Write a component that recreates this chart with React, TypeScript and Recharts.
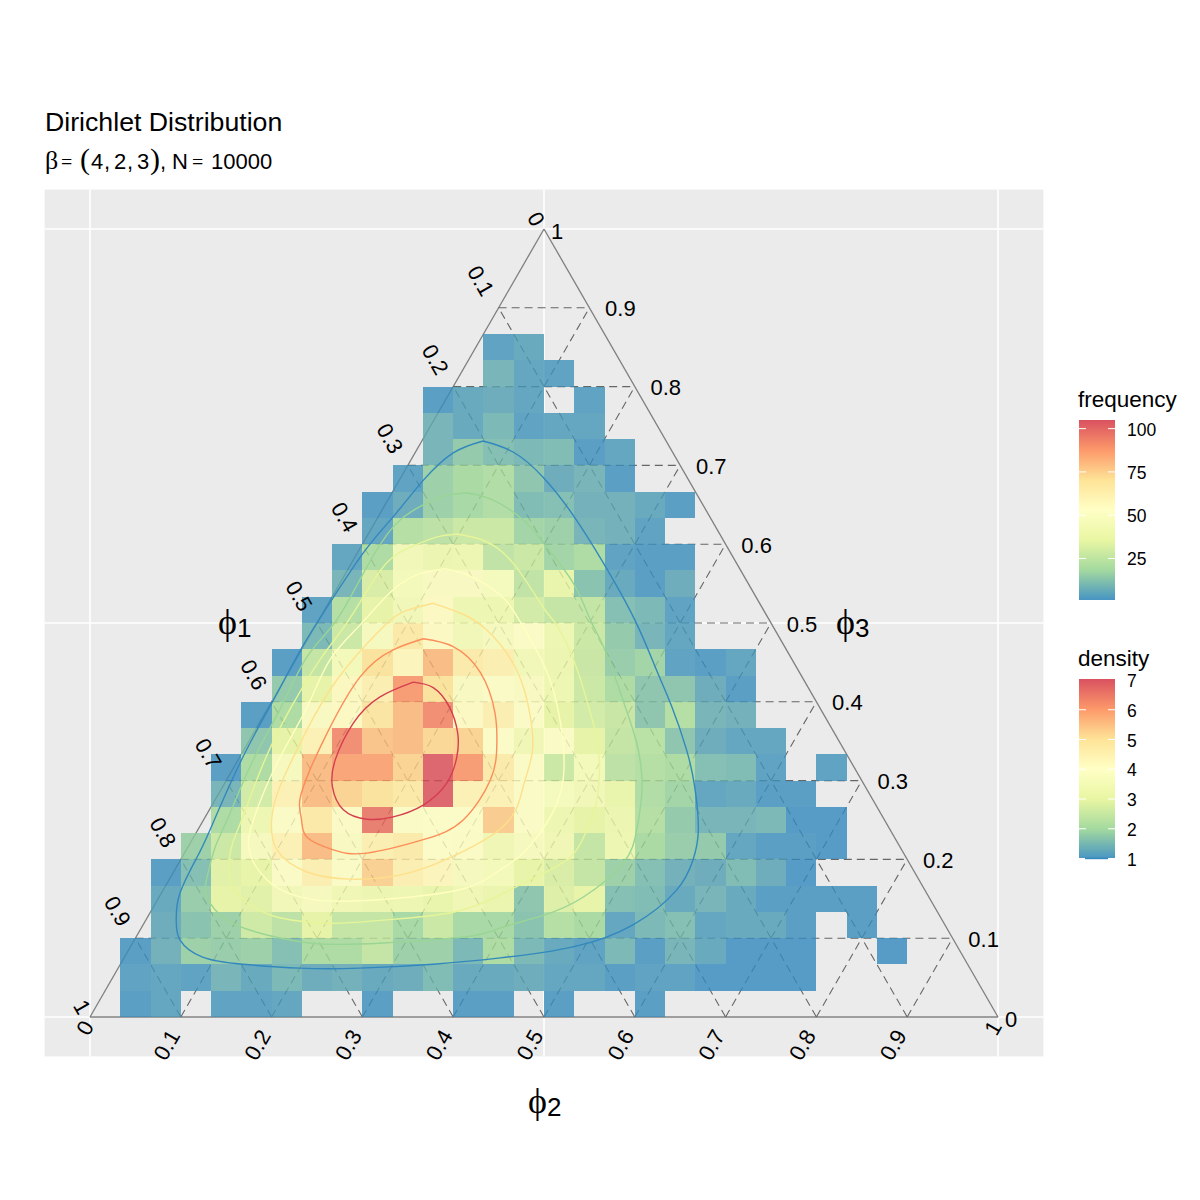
import React from 'react';
import { ScatterChart, Scatter, XAxis, YAxis, CartesianGrid, ReferenceArea, ReferenceLine } from 'recharts';

const FONT = '"Liberation Sans", Arial, sans-serif';
const SERIF = '"Liberation Serif", "Times New Roman", serif';

const palette = ['#3288BD', '#99D594', '#E6F598', '#FFFFBF', '#FEE08B', '#FC8D59', '#D53E4F'];
const BINS = 30;
const FREQ_MIN = 1;
const FREQ_MAX = 105;

// counts per square bin, bottom row first, one entry per column
const frequencyRows: number[][] = [
  [0, 2, 4, 0, 3, 3, 4, 0, 0, 2, 0, 0, 2, 2, 0, 2, 0, 0, 2],
  [0, 3, 4, 3, 8, 5, 9, 6, 7, 5, 6, 10, 5, 5, 6, 4, 4, 2, 3, 3, 1, 1, 1, 1],
  [0, 2, 7, 16, 15, 16, 11, 20, 20, 26, 16, 16, 9, 20, 9, 5, 3, 9, 2, 8, 5, 1, 1, 1, 0, 0, 1],
  [0, 0, 6, 12, 16, 29, 24, 36, 26, 26, 18, 28, 18, 18, 12, 22, 19, 4, 9, 11, 4, 5, 5, 2, 0, 2],
  [0, 0, 5, 15, 36, 34, 44, 48, 43, 41, 42, 38, 43, 39, 13, 33, 37, 11, 10, 5, 8, 5, 2, 2, 2, 2],
  [0, 0, 2, 11, 34, 37, 52, 62, 52, 75, 62, 58, 48, 46, 37, 32, 26, 16, 11, 7, 6, 10, 6, 1],
  [0, 0, 0, 16, 28, 48, 60, 80, 50, 62, 64, 53, 52, 43, 48, 43, 26, 42, 19, 15, 14, 4, 2, 2, 1],
  [0, 0, 0, 0, 20, 42, 52, 66, 54, 96, 52, 53, 53, 76, 52, 42, 36, 40, 22, 14, 8, 8, 9, 1, 1],
  [0, 0, 0, 0, 8, 30, 60, 80, 74, 70, 66, 103, 60, 61, 52, 47, 44, 38, 21, 17, 4, 5, 2, 2],
  [0, 0, 0, 0, 2, 20, 48, 80, 86, 86, 74, 103, 88, 65, 52, 28, 46, 24, 22, 20, 11, 10, 3, 0, 3],
  [0, 0, 0, 0, 0, 13, 36, 60, 92, 78, 80, 73, 74, 53, 43, 52, 36, 26, 23, 13, 6, 4, 4],
  [0, 0, 0, 0, 0, 2, 20, 50, 55, 68, 80, 92, 55, 62, 52, 36, 30, 27, 13, 22, 8, 7],
  [0, 0, 0, 0, 0, 0, 14, 36, 56, 62, 88, 70, 50, 52, 50, 42, 28, 20, 13, 13, 6, 2],
  [0, 0, 0, 0, 0, 0, 2, 26, 46, 70, 58, 80, 65, 62, 45, 40, 27, 15, 17, 3, 2, 4],
  [0, 0, 0, 0, 0, 0, 0, 9, 28, 48, 66, 55, 45, 48, 52, 42, 28, 14, 8, 4],
  [0, 0, 0, 0, 0, 0, 0, 3, 22, 36, 45, 55, 42, 42, 30, 26, 26, 11, 9, 3],
  [0, 0, 0, 0, 0, 0, 0, 0, 8, 32, 46, 50, 50, 47, 25, 38, 12, 5, 2, 6],
  [0, 0, 0, 0, 0, 0, 0, 0, 4, 20, 44, 40, 42, 25, 28, 17, 20, 3, 2, 2],
  [0, 0, 0, 0, 0, 0, 0, 0, 0, 4, 22, 24, 28, 28, 17, 16, 8, 7, 3],
  [0, 0, 0, 0, 0, 0, 0, 0, 0, 2, 6, 16, 18, 21, 10, 11, 7, 7, 5, 2],
  [0, 0, 0, 0, 0, 0, 0, 0, 0, 0, 3, 16, 19, 21, 13, 6, 8, 2],
  [0, 0, 0, 0, 0, 0, 0, 0, 0, 0, 0, 8, 14, 11, 9, 10, 2, 4],
  [0, 0, 0, 0, 0, 0, 0, 0, 0, 0, 0, 8, 5, 9, 3, 4, 4],
  [0, 0, 0, 0, 0, 0, 0, 0, 0, 0, 0, 2, 5, 6, 4, 0, 3],
  [0, 0, 0, 0, 0, 0, 0, 0, 0, 0, 0, 0, 0, 8, 4, 3],
  [0, 0, 0, 0, 0, 0, 0, 0, 0, 0, 0, 0, 0, 3, 5],
];

// density contours, level 1 to 7
const contour1X = [.433, .466, .499, .532, .565, .600, .624, .641, .657, .666, .670, .664, .646, .598, .532, .452, .378, .297, .231, .168, .124, .099, .095, .099, .118, .132, .165, .200, .233, .261, .301, .334, .367, .400];
const contour1Y = [.731, .717, .685, .637, .577, .504, .440, .393, .339, .292, .237, .199, .161, .117, .089, .075, .067, .062, .062, .067, .076, .098, .123, .157, .203, .237, .322, .398, .468, .520, .589, .635, .681, .716];
const contour2X = [.415, .444, .477, .499, .532, .551, .567, .587, .602, .608, .602, .587, .543, .499, .452, .415, .323, .250, .195, .151, .129, .129, .138, .151, .178, .209, .239, .270, .301, .334, .367, .393];
const contour2Y = [.665, .656, .631, .602, .551, .504, .466, .402, .348, .292, .237, .195, .152, .129, .113, .102, .094, .093, .104, .123, .152, .178, .216, .250, .322, .390, .457, .501, .563, .622, .650, .662];
const contour3X = [.404, .433, .466, .499, .514, .534, .548, .558, .561, .556, .547, .529, .488, .452, .400, .323, .268, .209, .173, .154, .156, .167, .191, .220, .253, .281, .308, .334, .367, .385];
const contour3Y = [.613, .605, .576, .520, .497, .449, .398, .355, .310, .263, .237, .203, .176, .155, .133, .123, .119, .126, .145, .174, .216, .250, .322, .390, .453, .497, .546, .584, .603, .610];
const contour4X = [.391, .422, .455, .474, .499, .514, .521, .521, .507, .477, .452, .415, .341, .268, .224, .195, .176, .180, .206, .239, .264, .297, .330, .360];
const contour4Y = [.569, .558, .532, .501, .449, .398, .348, .301, .254, .208, .187, .164, .151, .147, .155, .174, .208, .250, .322, .393, .453, .497, .538, .561];
const contour5X = [.378, .407, .437, .470, .485, .487, .477, .457, .396, .341, .286, .239, .206, .200, .209, .237, .272, .322, .349];
const contour5Y = [.525, .513, .491, .440, .381, .335, .292, .244, .202, .180, .175, .184, .212, .250, .292, .360, .428, .494, .516];
const contour6X = [.367, .400, .430, .446, .448, .441, .411, .367, .305, .268, .239, .233, .231, .242, .261, .297, .334];
const contour6Y = [.480, .470, .437, .386, .343, .301, .250, .225, .208, .212, .228, .250, .275, .313, .360, .431, .466];
const contour7X = [.356, .378, .396, .405, .404, .393, .367, .334, .305, .279, .267, .270, .290, .319];
const contour7Y = [.425, .418, .393, .360, .330, .297, .269, .254, .251, .263, .292, .326, .373, .406];

const contourXs = [contour1X, contour2X, contour3X, contour4X, contour5X, contour6X, contour7X];
const contourYs = [contour1Y, contour2Y, contour3Y, contour4Y, contour5Y, contour6Y, contour7Y];

const tickValues = [0, 0.1, 0.2, 0.3, 0.4, 0.5, 0.6, 0.7, 0.8, 0.9, 1];
const tickLabels = ['0', '0.1', '0.2', '0.3', '0.4', '0.5', '0.6', '0.7', '0.8', '0.9', '1'];
const frequencyTicks = [100, 75, 50, 25];
const densityTicks = [7, 6, 5, 4, 3, 2, 1];

const hexToRgb = (h: string) => [1, 3, 5].map(i => parseInt(h.slice(i, i + 2), 16));
const freqColor = (v: number) => {
  const t = Math.min(1, Math.max(0, (v - FREQ_MIN) / (FREQ_MAX - FREQ_MIN))) * (palette.length - 1);
  const i = Math.min(palette.length - 2, Math.floor(t));
  const a = hexToRgb(palette[i]);
  const b = hexToRgb(palette[i + 1]);
  const c = a.map((ch, n) => Math.round(ch + (b[n] - ch) * (t - i)));
  return `rgb(${c[0]},${c[1]},${c[2]})`;
};

const cells = frequencyRows.flatMap((row, k) =>
  row.map((v, j) => ({ j, k, v })).filter(c => c.v > 0));

const leftLabels = tickValues.map((t, i) => ({ x: (1 - t) / 2, y: 1 - t, label: tickLabels[i], corner: i === 0 || i === 10 }));
const rightLabels = tickValues.map((t, i) => ({ x: 1 - t / 2, y: t, label: tickLabels[i], corner: i === 0 || i === 10 }));
const bottomLabels = tickValues.map((t, i) => ({ x: t, y: 0, label: tickLabels[i], corner: i === 0 || i === 10 }));

const tickShape = (angle: number, dx: number, dy: number, cdx: number, cdy: number) => (p: any) => {
  const ox = p.payload.corner ? cdx : dx;
  const oy = p.payload.corner ? cdy : dy;
  return (
    <text
      transform={`translate(${p.cx + ox},${p.cy + oy}) rotate(${angle})`}
      textAnchor="middle"
      dominantBaseline="central"
      fontFamily={FONT}
      fontSize={22}
      fill="#000"
    >
      {p.payload.label}
    </text>
  );
};

const noDot = () => <g />;

const gridTicks = tickValues.slice(1, 10);
const dashedSegments = gridTicks.flatMap(t => [
  [{ x: t / 2, y: t }, { x: 1 - t / 2, y: t }],
  [{ x: t, y: 0 }, { x: (1 + t) / 2, y: 1 - t }],
  [{ x: t, y: 0 }, { x: t / 2, y: t }],
]);
const triangle = [
  [{ x: 0, y: 0 }, { x: 1, y: 0 }],
  [{ x: 0, y: 0 }, { x: 0.5, y: 1 }],
  [{ x: 1, y: 0 }, { x: 0.5, y: 1 }],
];

const PhiLabel = ({ x, y, n }: { x: number; y: number; n: number }) => (
  <text x={x} y={y} fill="#000">
    <tspan fontFamily={SERIF} fontSize={36}>{'\u03D5'}</tspan>
    <tspan fontFamily={FONT} fontSize={26} dy={3}>{n}</tspan>
  </text>
);

export default function App() {
  return (
    <div style={{ position: 'absolute', left: 0, top: 0, width: 1200, height: 1200, background: '#fff' }}>
      <ScatterChart width={1200} height={1200} margin={{ top: 189.6, right: 156.6, bottom: 143.6, left: 44.6 }}>
        <XAxis type="number" dataKey="x" domain={[-0.05, 1.05]} hide />
        <YAxis type="number" dataKey="y" domain={[-0.05, 1.05]} hide />
        <CartesianGrid
          fill="#EBEBEB"
          fillOpacity={1}
          stroke="#FFFFFF"
          strokeWidth={1.6}
          horizontalValues={[0, 0.5, 1]}
          verticalValues={[0, 0.5, 1]}
        />
        {triangle.map((s, i) => (
          <ReferenceLine key={`t${i}`} segment={s as any} stroke="#7F7F7F" strokeWidth={1.3} ifOverflow="visible" zIndex={-50} />
        ))}
        {dashedSegments.map((s, i) => (
          <ReferenceLine key={`d${i}`} segment={s as any} stroke="#666666" strokeWidth={1.1} strokeDasharray="8 5" ifOverflow="visible" zIndex={-50} />
        ))}
        {cells.map(c => (
          <ReferenceArea
            key={`${c.k}-${c.j}`}
            x1={c.j / BINS}
            x2={(c.j + 1) / BINS}
            y1={c.k / BINS}
            y2={(c.k + 1) / BINS}
            fill={freqColor(c.v)}
            fillOpacity={0.8}
            stroke="none"
            shapeRendering="crispEdges"
            ifOverflow="visible"
          />
        ))}
        {contourXs.map((xs, i) => {
          const pts = xs.map((x, n) => ({ x, y: contourYs[i][n] }));
          return (
            <Scatter
              key={`c${i}`}
              data={[...pts, pts[0]]}
              line={{ stroke: palette[i], strokeWidth: 1.4, fill: 'none' }}
              lineJointType="natural"
              shape={noDot}
              isAnimationActive={false}
            />
          );
        })}
        <Scatter data={leftLabels} shape={tickShape(60, -18, -27, -8, -10)} isAnimationActive={false} />
        <Scatter data={rightLabels} shape={tickShape(0, 31, 1, 13, 2)} isAnimationActive={false} />
        <Scatter data={bottomLabels} shape={tickShape(-60, -14, 28, -5, 11)} isAnimationActive={false} />

        <PhiLabel x={218} y={634} n={1} />
        <PhiLabel x={528} y={1113} n={2} />
        <PhiLabel x={836} y={634} n={3} />

        <text x={45} y={131} fontFamily={FONT} fontSize={26.7} fill="#000">Dirichlet Distribution</text>
        <g fill="#000" fontFamily={FONT} fontSize={22}>
          <text x={45} y={169} fontFamily={SERIF} fontSize={26}>{'\u03B2'}</text>
          <text x={61} y={169} fontFamily={SERIF} fontSize={20}>=</text>
          <text x={80} y={169} fontFamily={SERIF} fontSize={30}>(</text>
          <text x={91} y={169}>4</text>
          <text x={104} y={169}>,</text>
          <text x={114} y={169}>2</text>
          <text x={127} y={169}>,</text>
          <text x={137} y={169}>3</text>
          <text x={150} y={169} fontFamily={SERIF} fontSize={30}>)</text>
          <text x={160} y={169}>,</text>
          <text x={172} y={169}>N</text>
          <text x={192} y={169} fontFamily={SERIF} fontSize={20}>=</text>
          <text x={211} y={169}>10000</text>
        </g>

        <defs>
          <linearGradient id="legendRamp" x1="0" y1="1" x2="0" y2="0">
            {palette.map((c, i) => (
              <stop key={c} offset={i / (palette.length - 1)} stopColor={c} stopOpacity={0.9} />
            ))}
          </linearGradient>
        </defs>

        <text x={1078} y={407} fontFamily={FONT} fontSize={22.5} fill="#000">frequency</text>
        <rect x={1079} y={420} width={36} height={180} fill="url(#legendRamp)" />
        {frequencyTicks.map(v => {
          const y = 600 - ((v - FREQ_MIN) / (FREQ_MAX - FREQ_MIN)) * 180;
          return (
            <g key={v}>
              <line x1={1079} x2={1086} y1={y} y2={y} stroke="#fff" strokeWidth={1} />
              <line x1={1108} x2={1115} y1={y} y2={y} stroke="#fff" strokeWidth={1} />
              <text x={1127} y={y + 1} dominantBaseline="central" fontFamily={FONT} fontSize={17.5} fill="#000">{v}</text>
            </g>
          );
        })}

        <text x={1078} y={666} fontFamily={FONT} fontSize={22.5} fill="#000">density</text>
        <rect x={1079} y={679} width={36} height={180} fill="url(#legendRamp)" />
        {densityTicks.map(v => {
          const y = 858.5 - ((v - 1) / 6) * 178.5;
          return (
            <g key={v}>
              {v < 7 && <line x1={1079} x2={1086} y1={y} y2={y} stroke="#fff" strokeWidth={1} />}
              {v < 7 && <line x1={1108} x2={1115} y1={y} y2={y} stroke="#fff" strokeWidth={1} />}
              {v === 1 && <line x1={1085} x2={1108} y1={y} y2={y} stroke="#3288BD" strokeWidth={1.4} />}
              <text x={1127} y={y + 1} dominantBaseline="central" fontFamily={FONT} fontSize={17.5} fill="#000">{v}</text>
            </g>
          );
        })}
      </ScatterChart>
    </div>
  );
}
